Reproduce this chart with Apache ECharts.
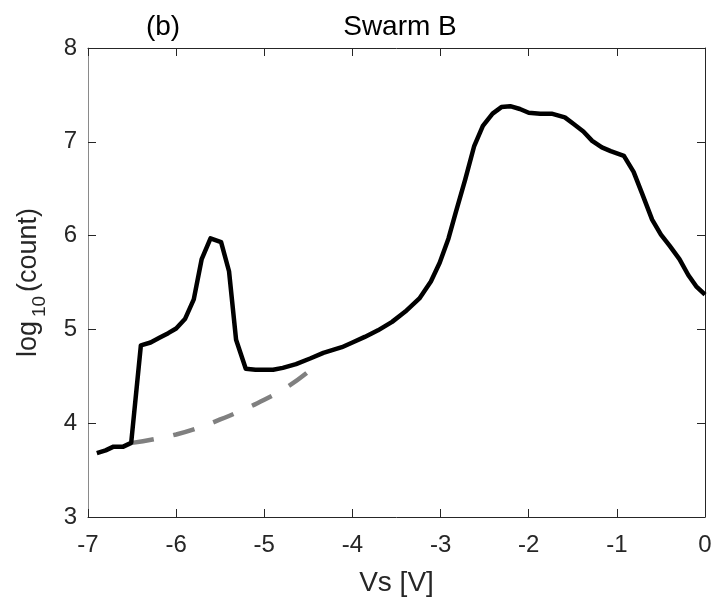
<!DOCTYPE html>
<html><head><meta charset="utf-8">
<script src="https://cdn.jsdelivr.net/npm/echarts@6/dist/echarts.min.js"></script>
<style>html,body{margin:0;padding:0;background:#fff}#c{width:715px;height:599px}</style>
</head><body><div id="c"></div>
<script>
const vsMain = [-6.90,-6.80,-6.71,-6.60,-6.51,-6.40,-6.29,-6.19,-6.09,-6.00,-5.90,-5.80,-5.71,-5.61,-5.49,-5.40,-5.32,-5.21,-5.10,-5.00,-4.90,-4.79,-4.64,-4.48,-4.33,-4.12,-4.00,-3.86,-3.71,-3.55,-3.40,-3.24,-3.11,-3.01,-2.91,-2.83,-2.72,-2.62,-2.52,-2.41,-2.31,-2.21,-2.10,-2.00,-1.87,-1.74,-1.59,-1.49,-1.38,-1.28,-1.17,-1.07,-0.92,-0.81,-0.71,-0.60,-0.50,-0.40,-0.29,-0.19,-0.10,0.00];
const logCount = [3.68,3.71,3.75,3.75,3.79,4.83,4.86,4.91,4.96,5.01,5.11,5.32,5.75,5.97,5.93,5.62,4.89,4.58,4.57,4.57,4.57,4.59,4.63,4.69,4.75,4.81,4.86,4.92,4.99,5.08,5.19,5.33,5.51,5.71,5.97,6.24,6.60,6.95,7.17,7.30,7.37,7.38,7.35,7.31,7.30,7.30,7.26,7.19,7.11,7.01,6.94,6.90,6.85,6.68,6.44,6.17,6.01,5.89,5.75,5.58,5.46,5.37];
const vsBase = [-6.50,-6.25,-6.00,-5.75,-5.50,-5.25,-5.00,-4.75,-4.50];
const logBase = [3.79,3.83,3.88,3.95,4.04,4.14,4.25,4.38,4.55];
const xTicks = [-7,-6,-5,-4,-3,-2,-1,0];
const yTicks = [3,4,5,6,7,8];

const axisCol = '#262626';
const font = 'Liberation Sans, Arial, sans-serif';
const chart = echarts.init(document.getElementById('c'));
const hidden = {show:false};
function tick(){ return {show:true,inside:true,length:8,lineStyle:{color:axisCol,width:1}}; }
function line(c){ return {show:true,onZero:false,lineStyle:{color:c,width:1}}; }
chart.setOption({
  animation:false,
  grid:{left:88,right:10,top:48,bottom:82,containLabel:false,outerBoundsMode:'none'},
  title:[
    {text:'Swarm B',left:395,top:8,textAlign:'center',textStyle:{fontFamily:font,fontWeight:'normal',fontSize:28,color:'#000'}},
    {text:'(b)',left:158,top:8,textAlign:'center',textStyle:{fontFamily:font,fontWeight:'normal',fontSize:28,color:'#000'}}
  ],
  xAxis:[
    {type:'value',min:xTicks[0],max:xTicks[xTicks.length-1],interval:1,position:'bottom',
     name:'Vs [V]',nameLocation:'middle',nameGap:52,
     nameTextStyle:{fontFamily:font,fontSize:28,color:axisCol},
     axisLine:line(axisCol),
     axisTick:tick(),
     axisLabel:{fontFamily:font,fontSize:24,color:axisCol,margin:16},
     splitLine:hidden},
    {type:'value',min:xTicks[0],max:xTicks[xTicks.length-1],interval:1,position:'top',
     axisLine:line(axisCol),
     axisTick:tick(),
     axisLabel:hidden,splitLine:hidden}
  ],
  yAxis:[
    {type:'value',min:yTicks[0],max:yTicks[yTicks.length-1],interval:1,position:'left',
     name:'{a|log}{b|10}{a|(count)}',nameLocation:'middle',nameGap:39,
     nameTextStyle:{fontFamily:font,color:axisCol,
       rich:{a:{fontFamily:font,fontSize:27,color:axisCol,lineHeight:34,verticalAlign:'top'},
             b:{fontFamily:font,fontSize:19,color:axisCol,lineHeight:34,verticalAlign:'bottom',padding:[18,4,0,4]}}},
     axisLine:line('#8a8a8a'),
     axisTick:tick(),
     axisLabel:{fontFamily:font,fontSize:24,color:axisCol,margin:11},
     splitLine:hidden},
    {type:'value',min:yTicks[0],max:yTicks[yTicks.length-1],interval:1,position:'right',
     axisLine:line(axisCol),
     axisTick:tick(),
     axisLabel:hidden,splitLine:hidden}
  ],
  series:[
    {type:'line',data:vsBase.map((v,i)=>[v,logBase[i]]),showSymbol:false,smooth:true,
     lineStyle:{color:'#808080',width:4.5,type:[22,20],cap:'butt'},z:2},
    {type:'line',data:vsMain.map((v,i)=>[v,logCount[i]]),showSymbol:false,
     lineStyle:{color:'#000',width:4.5,join:'round'},z:3}
  ]
});
</script></body></html>
